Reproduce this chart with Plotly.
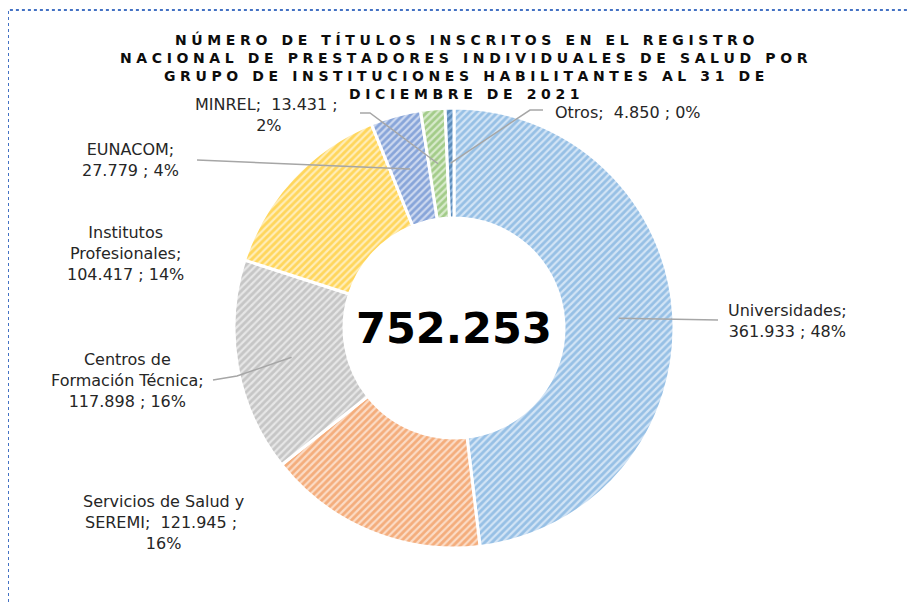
import math
import plotly.graph_objects as go

# data
names = ["Universidades", "Servicios de Salud y<br>SEREMI", "Centros de<br>Formación Técnica",
         "Institutos<br>Profesionales", "EUNACOM", "MINREL", "Otros"]
values = [361933, 121945, 117898, 104417, 27779, 13431, 4850]
pct_labels = [48, 16, 16, 14, 4, 2, 0]
total_label = "752.253"
title_lines = ["NÚMERO DE TÍTULOS INSCRITOS EN EL REGISTRO",
               "NACIONAL DE PRESTADORES INDIVIDUALES DE SALUD POR",
               "GRUPO DE INSTITUCIONES HABILITANTES AL 31 DE",
               "DICIEMBRE DE 2021"]

# styling
W, H = 917, 605
OFF = 8  # page body margin shifts the figure by 8px
fg = ["#5B9BD5", "#ED7D31", "#A5A5A5", "#FFC000", "#4472C4", "#70AD47", "#255E91"]
bg = ["#D2E4F5", "#FBDCC6", "#E6E6E6", "#FFEDB8", "#CCD8EF", "#D7EACB", "#8FB7E0"]
CX, CY, R = 454, 328, 220
FONT = "DejaVu Sans, Verdana, sans-serif"

# label layout: (sep after name, sep before pct, x, y, leader points from text side)
label_layout = [
    ("<br>", " ", 787, 321, [(718, 320)]),
    ("  ", " <br>", 163, 522, None),
    ("<br>", " ", 127, 380, [(213, 380), (237, 376)]),
    ("<br>", " ", 125, 254, None),
    ("<br>", " ", 130, 160, [(197, 160)]),
    ("  ", " <br>", 269, 115, [(360, 113), (370, 113)]),
    ("  ", " ", 628, 112, [(543, 110), (530, 110)]),
]


def fmt(v):
    return f"{v:,}".replace(",", ".")


def px(x, y):
    return (x - OFF) / W, 1 - (y - OFF) / H


def spaced(s):
    gap = "\u2004"
    return gap.join(ch if ch != " " else "\u00a0" for ch in s)


fig = go.Figure()

x0, y0 = px(CX - R, CY + R)
x1, y1 = px(CX + R, CY - R)
fig.add_trace(go.Pie(
    labels=[n.replace("<br>", " ") for n in names],
    values=values,
    sort=False,
    direction="clockwise",
    rotation=0,
    hole=0.5,
    textinfo="none",
    hoverinfo="label+value+percent",
    domain=dict(x=[x0, x1], y=[y0, y1]),
    marker=dict(
        colors=bg,
        line=dict(color="white", width=3),
        pattern=dict(shape="/", fgcolor=fg, size=5, solidity=0.55, fillmode="overlay"),
    ),
    showlegend=False,
))

total = sum(values)
cum = 0
shapes = []
annotations = []
for i, (name, v) in enumerate(zip(names, values)):
    mid = (cum + v / 2) / total * 2 * math.pi
    cum += v
    sep1, sep2, lx, ly, lead = label_layout[i]
    text = f"{name};{sep1}{fmt(v)} ;{sep2}{pct_labels[i]}%".replace("  ", "\u00a0 ")
    ax, ay = px(lx, ly)
    annotations.append(dict(x=ax, y=ay, xref="paper", yref="paper", text=text,
                            xanchor="center", yanchor="middle",
                            showarrow=False, align="center",
                            font=dict(family=FONT, size=16, color="#262626")))
    if lead:
        r = 0.75 * R
        ex, ey = CX + r * math.sin(mid), CY - r * math.cos(mid)
        pts = [px(*p) for p in lead] + [px(ex, ey)]
        path = "M " + " L ".join(f"{a:.5f},{b:.5f}" for a, b in pts)
        shapes.append(dict(type="path", path=path, xref="paper", yref="paper",
                           line=dict(color="#A6A6A6", width=1.5)))

cx_p, cy_p = px(CX, CY)
annotations.append(dict(x=cx_p, y=cy_p, xref="paper", yref="paper", text=f"<b>{total_label}</b>",
                        xanchor="center", yanchor="middle",
                        showarrow=False, font=dict(family=FONT, size=43, color="black")))

for k, line in enumerate(title_lines):
    tx, ty = px(464, 40 + 18 * k)
    annotations.append(dict(x=tx, y=ty, xref="paper", yref="paper",
                            xanchor="center", yanchor="middle",
                            text=f"<b>{spaced(line)}</b>", showarrow=False,
                            font=dict(family=FONT, size=14, color="#0D0D0D")))

# dotted frame
fx0, fy1 = px(8, 10)
shapes.append(dict(type="rect", xref="paper", yref="paper", x0=fx0, y0=-0.1, x1=1.1, y1=fy1,
                   line=dict(color="#4472C4", width=2, dash="dot"), layer="below"))

fig.update_layout(
    width=W, height=H,
    margin=dict(l=0, r=0, t=0, b=0),
    paper_bgcolor="white",
    plot_bgcolor="white",
    shapes=shapes,
    annotations=annotations,
)

fig.write_html("out.html")
